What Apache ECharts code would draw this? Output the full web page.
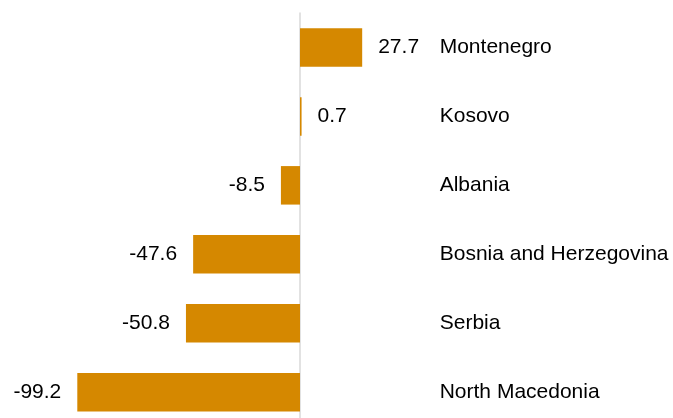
<!DOCTYPE html>
<html>
<head>
<meta charset="utf-8">
<script src="https://cdn.jsdelivr.net/npm/echarts@6/dist/echarts.min.js"></script>
<style>
  html, body { margin: 0; padding: 0; background: #fff; overflow: hidden; }
  /* chart runs a little past the bottom edge, like the reference */
  #main { width: 673px; height: 428px; }
</style>
</head>
<body>
<div id="main"></div>
<script>
// data
var countries = ['Montenegro', 'Kosovo', 'Albania', 'Bosnia and Herzegovina', 'Serbia', 'North Macedonia'];
var values = [27.7, 0.7, -8.5, -47.6, -50.8, -99.2];

var chart = echarts.init(document.getElementById('main'));

// negative bars get their label on the left
var barData = values.map(function (v) {
  return { value: v, label: { position: v < 0 ? 'left' : 'right' } };
});

var fontFamily = 'Liberation Sans, Arial, sans-serif';

chart.setOption({
  animation: false,
  grid: { left: 8.15, top: 13, width: 426.55, height: 413.6 },
  xAxis: {
    type: 'value',
    min: -130,
    max: 60,
    show: false
  },
  yAxis: [
    {
      // zero line
      type: 'category',
      data: countries,
      inverse: true,
      axisLine: { show: true, onZero: true, lineStyle: { color: '#d9d9d9', width: 1.5 } },
      axisTick: { show: false },
      axisLabel: { show: false }
    },
    {
      // country names on the right
      type: 'category',
      data: countries,
      inverse: true,
      position: 'right',
      axisLine: { show: false, onZero: false },
      axisTick: { show: false },
      axisLabel: { margin: 5, color: '#000', fontSize: 21, fontFamily: fontFamily, align: 'left' }
    }
  ],
  series: [{
    type: 'bar',
    data: barData,
    barWidth: 38.5,
    itemStyle: { color: '#d58800' },
    label: {
      show: true,
      distance: 16,
      color: '#000',
      fontSize: 21,
      fontFamily: fontFamily,
      formatter: function (p) { return p.value.toFixed(1); }
    }
  }]
});
</script>
</body>
</html>
